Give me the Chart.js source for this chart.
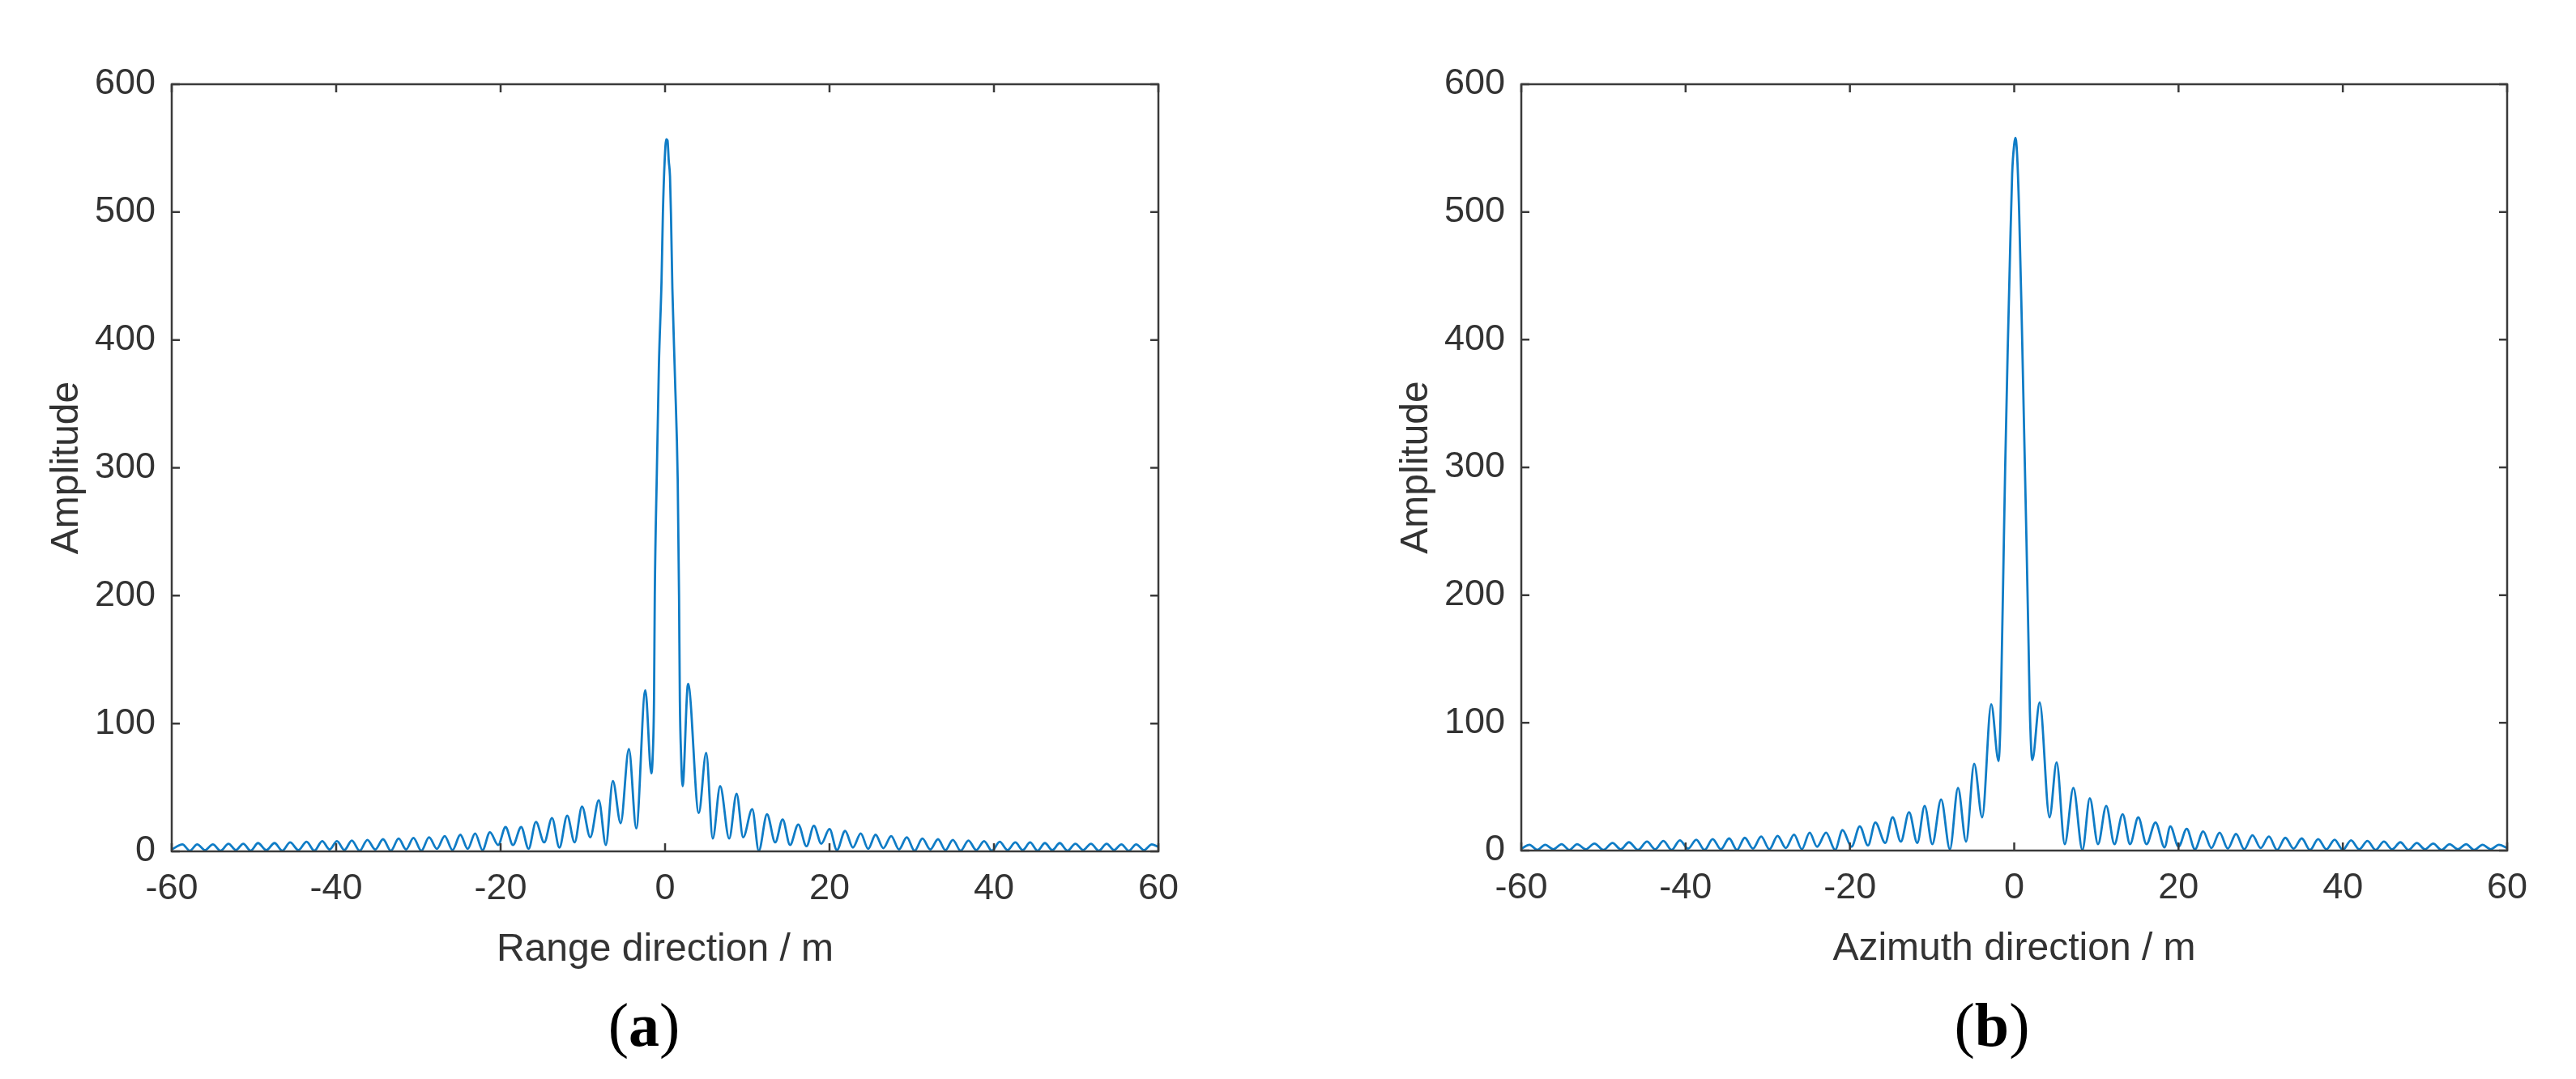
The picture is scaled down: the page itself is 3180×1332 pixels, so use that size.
<!DOCTYPE html>
<html lang="en">
<head>
<meta charset="UTF-8">
<title>Range and azimuth profiles</title>
<script src="https://cdn.jsdelivr.net/npm/chart.js@4.4.1/dist/chart.umd.min.js"></script>
<style>
  html, body { margin: 0; padding: 0; background: #fff; }
  body { width: 3180px; height: 1332px; position: relative; overflow: hidden; }
  .panel { position: absolute; top: 0; width: 1590px; height: 1332px; }
  .caption {
    position: absolute; top: 1222px; transform: translateX(-50%);
    font-family: "Liberation Serif", "DejaVu Serif", serif;
    font-size: 76px; line-height: 86px; color: #000; white-space: nowrap;
  }
</style>
</head>
<body>
<div class="panel" style="left:0"><canvas id="rangeChart" width="1590" height="1332"></canvas></div>
<div class="panel" style="left:1590px"><canvas id="azimuthChart" width="1590" height="1332"></canvas></div>
<div class="caption" style="left:795px">(<b>a</b>)</div>
<div class="caption" style="left:2459px">(<b>b</b>)</div>

<script>
// axis ticks
const xTicks = [-60, -40, -20, 0, 20, 40, 60];
const yTicks = [0, 100, 200, 300, 400, 500, 600];

// (a) range profile: left sidelobes, main lobe, right sidelobes
const rangeLeftX = [-60, -58.7, -57.8, -56.9, -55.95, -55.0, -54.05, -53.1, -52.2, -51.3, -50.4, -49.5, -48.5, -47.5,
  -46.55, -45.6, -44.6, -43.6, -42.65, -41.7, -40.8, -39.9, -39.0, -38.1, -37.15, -36.2, -35.25, -34.3, -33.35,
  -32.4, -31.5, -30.6, -29.65, -28.7, -27.75, -26.8, -25.85, -24.9, -24.0, -23.1, -22.2, -21.3, -20.3, -19.4,
  -18.5, -17.5, -16.6, -15.7, -14.7, -13.75, -12.85, -11.9, -11.0, -10.1, -9.1, -8.06, -7.2, -6.35, -5.4, -4.4,
  -3.5, -2.4];
const rangeLeftY = [1.5, 5.5, 0.5, 5.5, 1, 5.5, 0.5, 6, 1, 6, 0.5, 6.5, 1, 6.5,
  0.5, 7, 1, 7.5, 0.5, 8, 1.5, 8, 1, 8.5, 0.5, 9, 1.5, 9.5, 0.5,
  10, 1.5, 10.5, 0.5, 11, 2, 12, 1, 13, 2, 14, 1, 15, 5, 19,
  5, 19, 2, 23, 7, 26, 3, 28, 7, 35, 11, 40, 5, 55, 22, 80,
  18, 126];
const rangeMainX = [-1.67, -1.5, -1.34, -1.25, -1.0, -0.75, -0.43, -0.26, -0.05, 0.15, 0.3, 0.45, 0.6, 0.72,
  0.89, 1.21, 1.54, 1.7, 1.8, 1.95, 2.13];
const rangeMainY = [61, 75, 120, 200, 296, 380, 446, 500, 540, 557, 556, 540, 528, 498,
  440, 370, 290, 200, 118, 75, 51];
const rangeRightX = [2.8, 4.1, 5.0, 5.8, 6.7, 7.8, 8.7, 9.5, 10.6, 11.4, 12.4, 13.4, 14.3, 15.2, 16.2, 17.2,
  18.1, 19.0, 20.0, 20.9, 21.9, 22.85, 23.8, 24.7, 25.6, 26.55, 27.5, 28.45, 29.4, 30.35, 31.3, 32.25, 33.2,
  34.1, 35.0, 35.95, 36.9, 37.85, 38.8, 39.75, 40.7, 41.65, 42.6, 43.5, 44.4, 45.3, 46.2, 47.1, 48.0, 48.95,
  49.9, 50.85, 51.8, 52.75, 53.7, 54.6, 55.5, 56.4, 57.3, 58.25, 59.2, 60];
const rangeRightY = [131, 30, 77, 10, 51, 10, 45, 11, 33, 0.5, 29, 7, 25, 5, 21, 4,
  20, 6, 17.5, 1, 16, 3, 14, 2, 13, 2.5, 12, 1.5, 11, 0.5, 10, 1.5, 9.5,
  1, 9, 0.5, 8.5, 1, 8, 0.5, 7.5, 1, 7, 1, 7, 0.5, 6.5, 1, 6.5, 0.5,
  6, 1, 6, 0.5, 6, 1, 5.5, 0.5, 5.5, 1, 5.5, 3.5];

// (b) azimuth profile
const azLeftX = [-60, -59.0, -58.05, -57.1, -56.1, -55.1, -54.15, -53.2, -52.15, -51.1, -50.0, -48.9, -47.9, -46.9,
  -45.8, -44.7, -43.7, -42.7, -41.7, -40.7, -39.7, -38.7, -37.7, -36.7, -35.7, -34.7, -33.75, -32.8, -31.8,
  -30.8, -29.8, -28.8, -27.8, -26.8, -25.85, -24.9, -24.0, -22.9, -21.8, -20.9, -19.8, -18.8, -17.8, -16.9,
  -15.7, -14.8, -13.8, -12.8, -11.8, -10.9, -9.97, -8.9, -7.83, -6.84, -5.86, -4.87, -3.9, -2.8];
const azLeftY = [1.5, 4.5, 0.5, 4.5, 1, 5, 0.5, 5, 1, 5.5, 0.5, 6, 1, 6.5,
  0.5, 7, 1, 7.5, 0.5, 8, 1.5, 8.5, 0.5, 9, 1, 9.5, 0.5, 10, 1.5,
  11, 1, 11.5, 2, 12.5, 1, 14, 3, 14, 0.5, 16, 3, 19, 4, 22,
  6, 26, 7, 30, 6, 35, 5, 40, 1, 49, 7, 68, 26, 114.5];
const azMainX = [-1.9, -1.7, -1.55, -1.35, -1.1, -0.8, -0.5, -0.25, 0.0, 0.15, 0.35, 0.6, 0.9, 1.2, 1.5,
  1.75, 1.9, 2.2];
const azMainY = [70, 95, 140, 210, 300, 390, 470, 530, 553, 558, 545, 500, 420, 330, 240,
  160, 110, 71];
const azRightX = [3.1, 4.3, 5.16, 6.15, 7.2, 8.3, 9.2, 10.2, 11.2, 12.2, 13.2, 14.1, 15.1, 16.1, 17.2, 18.3,
  19.0, 20.0, 21.0, 22.0, 23.0, 24.0, 25.0, 26.0, 27.0, 28.0, 29.0, 30.0, 31.0, 32.0, 33.0, 34.0, 35.0,
  36.0, 37.0, 38.0, 39.0, 40.0, 41.0, 42.0, 43.0, 44.0, 45.0, 46.0, 47.0, 48.0, 49.0, 50.0, 51.0, 52.0,
  53.0, 54.0, 55.0, 56.0, 57.0, 58.0, 59.0, 60];
const azRightY = [116, 26, 69, 5, 49, 0.5, 41, 5, 35, 5, 28.5, 5, 26, 5, 22, 2.5,
  19, 3, 17, 1, 15, 2, 14, 1.5, 13, 1, 12, 2, 11, 0.5, 10, 1.5, 9.5,
  0.5, 9, 1, 8.5, 0.5, 8, 1, 7.5, 0.5, 7, 1, 6.5, 0.5, 6, 1, 5.5, 0.5,
  5, 1, 5, 0.5, 4.5, 1, 4.5, 2];

function toPoints(xs, ys) {
  return xs.map((x, i) => ({ x: x, y: ys[i] }));
}

Chart.defaults.font.family = '"Liberation Sans", Arial, Helvetica, sans-serif';
Chart.defaults.color = '#333333';

// MATLAB-like box with inward tick marks
const boxPlugin = {
  id: 'matlabBox',
  afterDatasetsDraw(chart) {
    const { ctx, chartArea: a, scales } = chart;
    const len = 10;
    ctx.save();
    ctx.strokeStyle = '#3a3a3a';
    ctx.lineWidth = 2.5;
    ctx.strokeRect(a.left, a.top, a.right - a.left, a.bottom - a.top);
    ctx.beginPath();
    scales.x.ticks.forEach(t => {
      const px = scales.x.getPixelForValue(t.value);
      ctx.moveTo(px, a.bottom); ctx.lineTo(px, a.bottom - len);
      ctx.moveTo(px, a.top); ctx.lineTo(px, a.top + len);
    });
    scales.y.ticks.forEach(t => {
      const py = scales.y.getPixelForValue(t.value);
      ctx.moveTo(a.left, py); ctx.lineTo(a.left + len, py);
      ctx.moveTo(a.right, py); ctx.lineTo(a.right - len, py);
    });
    ctx.stroke();
    ctx.restore();
  }
};

function makeChart(id, points, xTitle, pad) {
  return new Chart(document.getElementById(id), {
    type: 'line',
    data: {
      datasets: [{
        data: points,
        borderColor: '#0f7cc6',
        borderWidth: 2.8,
        pointRadius: 0,
        fill: false,
        cubicInterpolationMode: 'monotone'
      }]
    },
    options: {
      responsive: false,
      animation: false,
      layout: { padding: pad },
      plugins: { legend: { display: false }, tooltip: { enabled: false } },
      scales: {
        x: {
          type: 'linear', min: xTicks[0], max: xTicks[xTicks.length - 1],
          afterBuildTicks: s => { s.ticks = xTicks.map(v => ({ value: v })); },
          afterFit: s => { s.height = 151; },
          grid: { display: false, drawTicks: false },
          border: { display: false },
          ticks: { font: { size: 45 }, padding: 20, maxRotation: 0 },
          title: { display: true, text: xTitle, font: { size: 48 }, padding: { top: 0, bottom: 0 } }
        },
        y: {
          type: 'linear', min: yTicks[0], max: yTicks[yTicks.length - 1],
          afterBuildTicks: s => { s.ticks = yTicks.map(v => ({ value: v })); },
          afterFit: s => { s.width = 212; },
          grid: { display: false, drawTicks: false },
          border: { display: false },
          ticks: { font: { size: 45 }, padding: 20 },
          title: { display: true, text: 'Amplitude', font: { size: 48 }, padding: { top: 54, bottom: 0 } }
        }
      }
    },
    plugins: [boxPlugin]
  });
}

makeChart('rangeChart',
  toPoints(rangeLeftX.concat(rangeMainX, rangeRightX), rangeLeftY.concat(rangeMainY, rangeRightY)),
  'Range direction / m', { left: 0, top: 104, right: 160, bottom: 130 });
makeChart('azimuthChart',
  toPoints(azLeftX.concat(azMainX, azRightX), azLeftY.concat(azMainY, azRightY)),
  'Azimuth direction / m', { left: 76, top: 104, right: 85, bottom: 131 });
</script>
</body>
</html>
